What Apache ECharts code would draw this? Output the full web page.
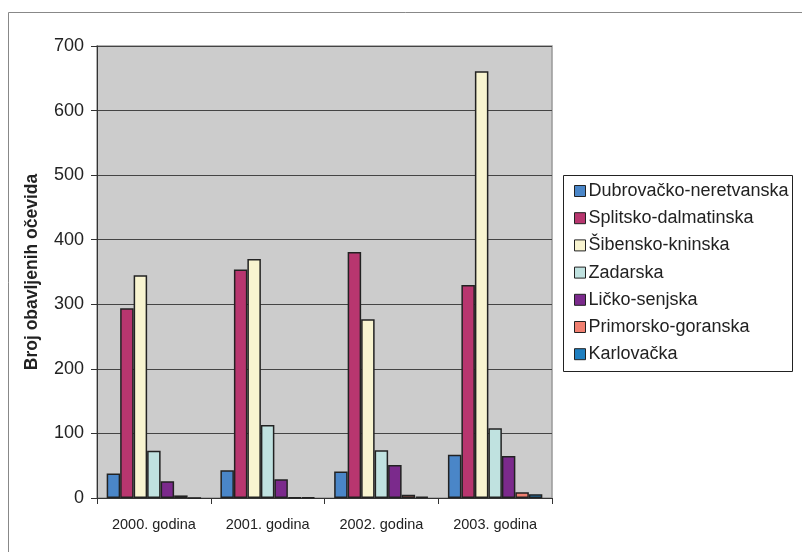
<!DOCTYPE html>
<html>
<head>
<meta charset="utf-8">
<script src="https://cdn.jsdelivr.net/npm/echarts@6/dist/echarts.min.js"></script>
<style>html,body{margin:0;padding:0;background:#fff}#c{width:802px;height:552px}</style>
</head>
<body>
<div id="c"></div>
<script>
const categories = ['2000. godina', '2001. godina', '2002. godina', '2003. godina'];
const seriesNames = ['Dubrovačko-neretvanska', 'Splitsko-dalmatinska', 'Šibensko-kninska', 'Zadarska', 'Ličko-senjska', 'Primorsko-goranska', 'Karlovačka'];
const dubrovacko = [38, 43, 41, 67];
const splitsko = [294, 354, 381, 330];
const sibensko = [345, 370, 277, 661];
const zadarska = [73, 113, 74, 108];
const licko = [26, 29, 51, 65];
const primorsko = [4, 1, 5, 9];
const karlovacka = [0, 1, 2, 6];
const seriesColors = ['#4a86c8', '#b8366f', '#f8f4d0', '#c0e2e0', '#7b2a8c', '#f07f70', '#1f7fc0'];
const yTicks = { min: 0, max: 700, interval: 100 };

const values = [dubrovacko, splitsko, sibensko, zadarska, licko, primorsko, karlovacka];
const chart = echarts.init(document.getElementById('c'), null, { renderer: 'canvas' });
const font = 'Liberation Sans, Arial, sans-serif';
chart.setOption({
  animation: false,
  backgroundColor: '#fff',
  textStyle: { fontFamily: font, color: '#222' },
  graphic: [
    { type: 'rect', shape: { x: 8.5, y: 12.5, width: 820, height: 560 }, style: { fill: 'none', stroke: '#888', lineWidth: 1 }, z: -1 },
    { type: 'rect', shape: { x: 563.5, y: 175.5, width: 229, height: 196 }, style: { fill: '#fff', stroke: '#222', lineWidth: 1 }, z: 0 }
  ],
  grid: { left: 97, right: 250, top: 46, bottom: 54, show: true, backgroundColor: '#cccccc', borderColor: '#999', borderWidth: 1.5 },
  legend: {
    orient: 'vertical', left: 569, top: 177, itemWidth: 11, itemHeight: 11, itemGap: 9.2,
    icon: 'rect', z: 5,
    itemStyle: { borderColor: '#222', borderWidth: 1 },
    textStyle: { fontFamily: font, fontSize: 18, color: '#222', padding: [0, 0, 0, -2] },
    data: seriesNames
  },
  xAxis: {
    type: 'category', data: categories,
    axisLine: { lineStyle: { color: '#333', width: 1 } },
    axisTick: { show: true, length: 6, lineStyle: { color: '#333' } },
    axisLabel: { fontSize: 14.5, color: '#222', margin: 19 }
  },
  yAxis: {
    type: 'value', min: yTicks.min, max: yTicks.max, interval: yTicks.interval,
    name: 'Broj obavljenih očevida', nameLocation: 'middle', nameGap: 56, nameRotate: 90,
    nameTextStyle: { fontSize: 17.5, fontWeight: 'bold', color: '#222' },
    axisLine: { show: true, lineStyle: { color: '#333', width: 1 } },
    axisTick: { show: true, length: 6, lineStyle: { color: '#333' } },
    axisLabel: { fontSize: 18, color: '#222', margin: 13 },
    splitLine: { lineStyle: { color: '#444', width: 1 } }
  },
  series: seriesNames.map((n, i) => ({
    name: n, type: 'bar', data: values[i],
    barGap: '0%', barCategoryGap: '17%',
    itemStyle: { color: seriesColors[i], borderColor: '#222', borderWidth: 1.5 }
  }))
});
</script>
</body>
</html>
